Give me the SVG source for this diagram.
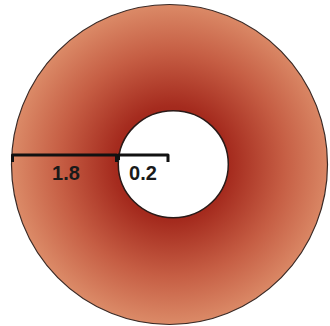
<svg xmlns="http://www.w3.org/2000/svg" width="330" height="326" viewBox="0 0 330 326">
  <defs>
    <radialGradient id="ring" gradientUnits="userSpaceOnUse" cx="172" cy="164" r="160">
      <stop offset="0" stop-color="#8e1a12"/>
      <stop offset="0.36" stop-color="#a52b1e"/>
      <stop offset="0.7" stop-color="#c65e44"/>
      <stop offset="1" stop-color="#db8a67"/>
    </radialGradient>
  </defs>
  <style>
    .br { fill: none; stroke: #111; stroke-width: 3; stroke-linejoin: round; }
    .lbl { font-family: "Liberation Sans", Arial, sans-serif; font-weight: bold; font-size: 20px; fill: #1a1a1a; text-anchor: middle; }
  </style>
  <g id="outer">
    <ellipse cx="169.5" cy="164.5" rx="158" ry="160" fill="url(#ring)" stroke="#3a2a26" stroke-width="1.2"/>
  </g>
  <g id="inner">
    <ellipse cx="173.3" cy="164.2" rx="55" ry="53.5" fill="#ffffff" stroke="#2a1a18" stroke-width="1.5"/>
  </g>
  <g id="connectors">
    <path class="br" d="M12.5,162 V155 H116.5 V162"/>
    <path class="br" d="M118.5,160 V155 H168 V162"/>
  </g>
  <g id="labels">
    <text class="lbl" x="66" y="180">1.8</text>
    <text class="lbl" x="143" y="180">0.2</text>
  </g>
</svg>
